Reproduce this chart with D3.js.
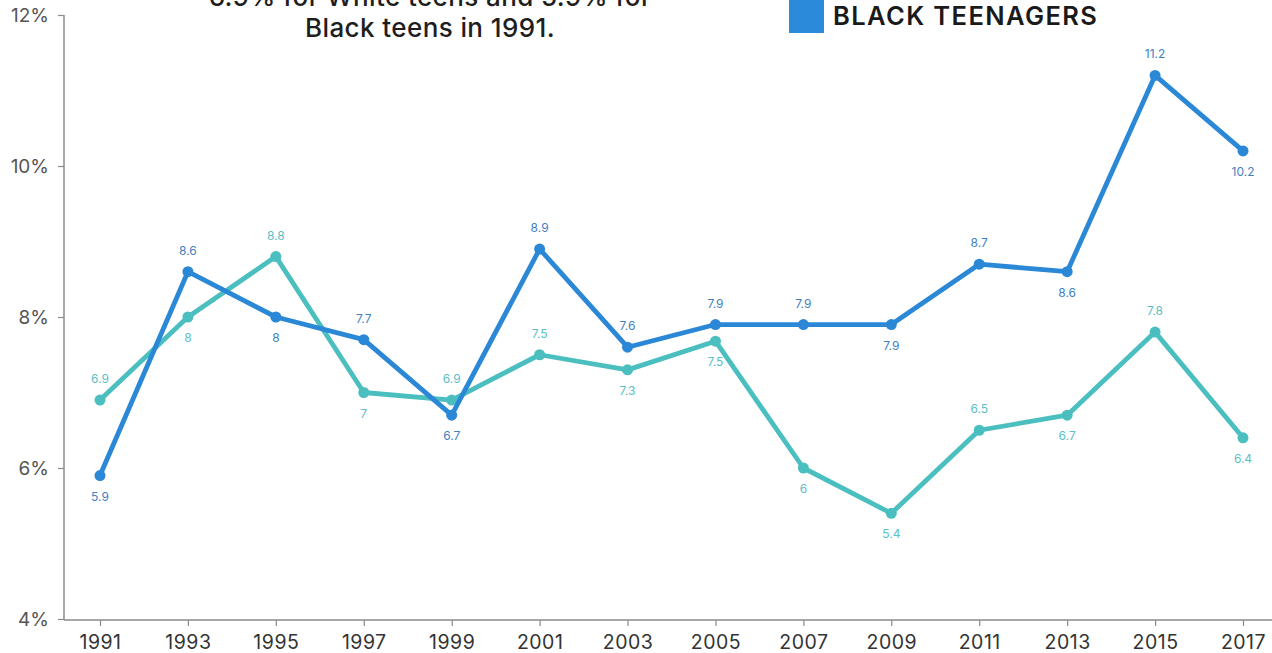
<!DOCTYPE html>
<html><head><meta charset="utf-8">
<script src="https://cdn.jsdelivr.net/npm/d3@7"></script>
<style>
html,body{margin:0;padding:0;background:#fff;}
svg{display:block;}
</style>
</head><body>
<svg id="c" width="1272" height="653"></svg>
<script>
const years = [1991,1993,1995,1997,1999,2001,2003,2005,2007,2009,2011,2013,2015,2017];
const blackValues = [5.9,8.6,8.0,7.7,6.7,8.9,7.6,7.9,7.9,7.9,8.7,8.6,11.2,10.2];
const blackLabels = ["5.9","8.6","8","7.7","6.7","8.9","7.6","7.9","7.9","7.9","8.7","8.6","11.2","10.2"];
const blackLabelSide = ["below","above","below","above","below","above","above","above","above","below","above","below","above","below"];
const whiteValues = [6.9,8.0,8.8,7.0,6.9,7.5,7.3,7.68,6.0,5.4,6.5,6.7,7.8,6.4];
const whiteLabels = ["6.9","8","8.8","7","6.9","7.5","7.3","7.5","6","5.4","6.5","6.7","7.8","6.4"];
const whiteLabelSide = ["above","below","above","below","above","above","below","below","below","below","above","below","above","below"];
const yTicks = [4,6,8,10,12];
const titleLines = ["6.9% for White teens and 5.9% for","Black teens in 1991."];
const legendLabel = "BLACK TEENAGERS";

const svg = d3.select("#c");
const x = d3.scaleLinear().domain([1991,2017]).range([100,1243]);
const y = d3.scaleLinear().domain([4,12]).range([619,15]);
const font = "Inter, 'Liberation Sans', sans-serif";

// axes
const yAxis = d3.axisLeft(y).tickValues(yTicks).tickSize(6).tickPadding(9).tickFormat(d => d + "%");
const gy = svg.append("g").attr("transform","translate(64,0)").call(yAxis);
gy.select(".domain").attr("stroke","#8a8a8a").attr("stroke-width",1.5).attr("d","M0,15V620");
gy.selectAll(".tick line").attr("stroke","#8a8a8a").attr("stroke-width",1.2);
gy.selectAll(".tick text").attr("font-family",font).attr("font-size",19).attr("fill","#555").attr("dy","0.35em");

const xAxis = d3.axisBottom(x).tickValues(years).tickSize(6).tickPadding(9).tickFormat(d3.format("d"));
const gx = svg.append("g").attr("transform","translate(0,620)").call(xAxis);
gx.select(".domain").attr("stroke","#8a8a8a").attr("stroke-width",1.5).attr("d","M64,0H1272");
gx.selectAll(".tick line").attr("stroke","#8a8a8a").attr("stroke-width",1.2);
gx.selectAll(".tick text").attr("font-family",font).attr("font-size",19.5).attr("fill","#333").attr("letter-spacing","0.5px");

// title (partially cropped, as in the reference)
const title = svg.append("text").attr("font-family",font).attr("font-size",26).attr("font-weight",500)
  .attr("fill","#1e1e1e").attr("text-anchor","middle").attr("letter-spacing","0.4px");
titleLines.forEach((t,i) => title.append("tspan").attr("x",430).attr("y",6 + i*31).text(t));

// legend
svg.append("rect").attr("x",789).attr("y",-2).attr("width",35).attr("height",35).attr("fill","#2b8ad9");
svg.append("text").attr("x",833).attr("y",25).attr("font-family",font).attr("font-size",25.5)
  .attr("font-weight",600).attr("fill","#1a1a1a").attr("letter-spacing","1.4px").text(legendLabel);

const line = d3.line().x((d,i) => x(years[i])).y(d => y(d));

function drawSeries(vals, labels, sides, lineColor, labelColor){
  svg.append("path").datum(vals).attr("d", line).attr("fill","none")
    .attr("stroke", lineColor).attr("stroke-width",4.8).attr("stroke-linejoin","round");
  svg.append("g").selectAll("circle").data(vals).join("circle")
    .attr("cx",(d,i)=>x(years[i])).attr("cy",d=>y(d)).attr("r",5.5).attr("fill",lineColor);
  svg.append("g").selectAll("text").data(vals).join("text")
    .attr("x",(d,i)=>x(years[i]))
    .attr("y",(d,i)=> y(d) + (sides[i]==="above" ? -17 : 25))
    .attr("text-anchor","middle").attr("font-family",font).attr("font-size",12)
    .attr("fill",labelColor).text((d,i)=>labels[i]);
}
drawSeries(whiteValues, whiteLabels, whiteLabelSide, "#4bbfbf", "#5cc0c4");
drawSeries(blackValues, blackLabels, blackLabelSide, "#2b88d6", "#3f80c2");
</script>
</body></html>
